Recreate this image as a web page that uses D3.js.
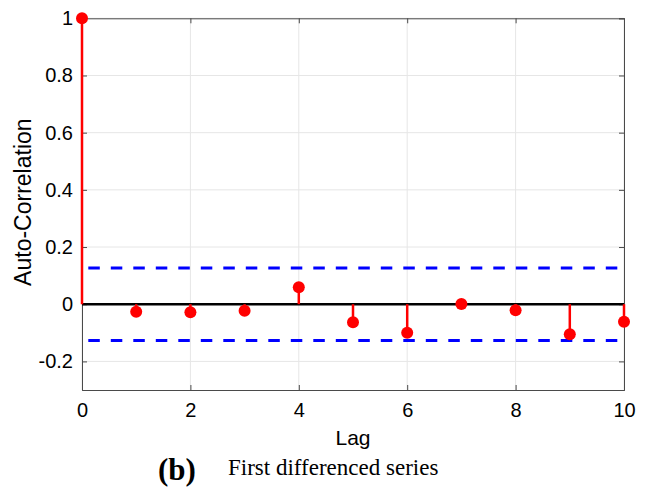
<!DOCTYPE html>
<html><head><meta charset="utf-8">
<script src="https://cdn.jsdelivr.net/npm/d3@7"></script>
<style>body{margin:0;background:#fff;} svg{display:block;}</style>
</head><body>
<script>
const lags = [0,1,2,3,4,5,6,7,8,9,10];
const acf = [1, -0.026, -0.028, -0.023, 0.059, -0.063, -0.100, 0.001, -0.021, -0.105, -0.061];
const confBound = 0.127;
const xTicks = [0,2,4,6,8,10];
const yTicks = [-0.2,0,0.2,0.4,0.6,0.8,1];
const xLabel = "Lag";
const yLabel = "Auto-Correlation";
const captionTag = "(b)";
const captionText = "First differenced series";

const W = 649, H = 487;
const L = 82, R = 624, T = 18.3, B = 390;
const svg = d3.select("body").append("svg").attr("width", W).attr("height", H);
const x = d3.scaleLinear().domain([0,10]).range([L,R]);
const y = d3.scaleLinear().domain([-0.3,1]).range([B,T]);
const font = "'Liberation Sans', Arial, Helvetica, sans-serif";

// grid
svg.append("g").selectAll("line").data(xTicks).join("line")
  .attr("x1", d=>x(d)).attr("x2", d=>x(d)).attr("y1", T).attr("y2", B)
  .attr("stroke", "#e6e6e6").attr("stroke-width", 1);
svg.append("g").selectAll("line").data(yTicks).join("line")
  .attr("x1", L).attr("x2", R).attr("y1", d=>y(d)).attr("y2", d=>y(d))
  .attr("stroke", "#e6e6e6").attr("stroke-width", 1);

// axes (ticks inside)
const axL = d3.axisLeft(y).tickValues(yTicks).tickSize(-5).tickPadding(9)
  .tickFormat(d => d3.format("~g")(d).replace("−","-"));
const axB = d3.axisBottom(x).tickValues(xTicks).tickSize(-5).tickPadding(13);
const axT = d3.axisTop(x).tickValues(xTicks).tickSize(-5).tickFormat("");
const axR = d3.axisRight(y).tickValues(yTicks).tickSize(-5).tickFormat("");
function style(g){
  g.selectAll("path").attr("stroke","#4a4a4a").attr("stroke-width",1);
  g.selectAll(".tick line").attr("stroke","#4a4a4a").attr("stroke-width",1);
  g.selectAll("text").attr("font-family", font).attr("font-size", 20).attr("fill","#000");
}
svg.append("g").attr("transform",`translate(${L},0)`).call(axL).call(style);
svg.append("g").attr("transform",`translate(0,${B})`).call(axB).call(style);
svg.append("g").attr("transform",`translate(0,${T})`).call(axT).call(style);
svg.append("g").attr("transform",`translate(${R},0)`).call(axR).call(style);

// confidence bounds
[confBound, -confBound].forEach(v => {
  svg.append("line").attr("x1", x(0)).attr("x2", x(10)).attr("y1", y(v)).attr("y2", y(v))
    .attr("stroke", "#0000ff").attr("stroke-width", 3)
    .attr("stroke-dasharray", "11.5,11").attr("stroke-dashoffset", 16.2);
});

// zero line
svg.append("line").attr("x1", x(0)).attr("x2", x(10)).attr("y1", y(0)).attr("y2", y(0))
  .attr("stroke", "#000").attr("stroke-width", 2.5);

// stems
const data = lags.map((l,i)=>({l, v: acf[i]}));
svg.append("g").selectAll("line").data(data).join("line")
  .attr("x1", d=>x(d.l)).attr("x2", d=>x(d.l)).attr("y1", y(0)).attr("y2", d=>y(d.v))
  .attr("stroke", "#ff0000").attr("stroke-width", 2.5);
svg.append("g").selectAll("circle").data(data).join("circle")
  .attr("cx", d=>x(d.l)).attr("cy", d=>y(d.v)).attr("r", 6)
  .attr("fill", "#ff0000");

// labels
svg.append("text").attr("x", (L+R)/2).attr("y", 445).attr("text-anchor","middle")
  .attr("font-family", font).attr("font-size", 21).text(xLabel);
svg.append("text").attr("transform", `translate(31,${(T+B)/2 - 2}) rotate(-90)`)
  .attr("text-anchor","middle").attr("font-family", font).attr("font-size", 23).text(yLabel);

// caption
const serif = "'Liberation Serif', 'Times New Roman', Times, serif";
svg.append("text").attr("x", 158).attr("y", 480).attr("font-family", serif)
  .attr("font-weight","bold").attr("font-size", 31).text(captionTag);
svg.append("text").attr("x", 228).attr("y", 475).attr("font-family", serif)
  .attr("font-size", 23).text(captionText);
</script>
</body></html>
